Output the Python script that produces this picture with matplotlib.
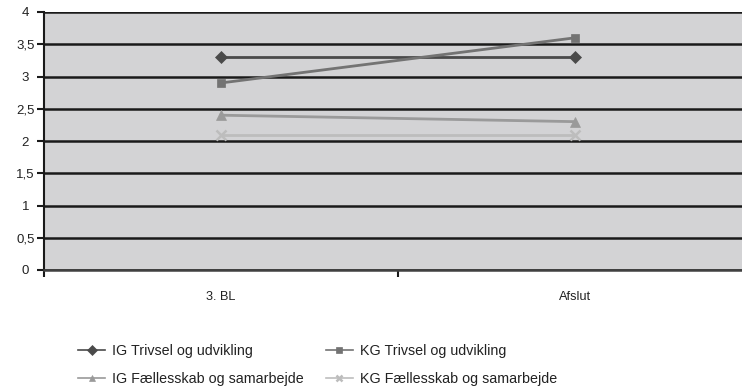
import numpy as np
import matplotlib.pyplot as plt
from matplotlib.ticker import FixedLocator, FuncFormatter

plt.rcParams['font.family'] = ['Liberation Sans', 'DejaVu Sans']

# Gennemsnit pr. måling
malinger = ['3. BL', 'Afslut']
ig_trivsel = [3.3, 3.3]
kg_trivsel = [2.9, 3.6]
ig_faelles = [2.4, 2.3]
kg_faelles = [2.1, 2.1]

serier = [
    ('IG Trivsel og udvikling', ig_trivsel, '#4a4a4a', 'D', 6),
    ('KG Trivsel og udvikling', kg_trivsel, '#737373', 's', 6),
    ('IG Fællesskab og samarbejde', ig_faelles, '#9a9a9a', '^', 7),
    ('KG Fællesskab og samarbejde', kg_faelles, '#bdbdbd', 'x', 7),
]

fig = plt.figure(figsize=(7.42, 3.87), dpi=100)
ax = fig.add_axes([44 / 742, 1 - 270 / 387, 708 / 742, 258 / 387])
ax.set_facecolor('#d3d3d5')

x = np.arange(len(malinger))
linjer = []
for navn, vals, farve, mk, ms in serier:
    l, = ax.plot(x, vals, color=farve, lw=2, marker=mk, markersize=ms,
                 markeredgewidth=1.8 if mk == 'x' else 0.5, markeredgecolor=farve,
                 label=navn, zorder=3)
    linjer.append(l)

ax.set_ylim(0, 4)
ax.set_xlim(-0.5, 1.5)
ax.set_yticks(np.arange(0, 4.01, 0.5))
ax.yaxis.set_major_formatter(FuncFormatter(lambda v, p: f'{v:g}'.replace('.', ',')))
ax.grid(axis='y', color='#1a1a1a', lw=1.8, zorder=1)
ax.tick_params(axis='y', direction='out', length=5, width=1.5, color='#1a1a1a',
               labelsize=9.5, pad=8.5, labelcolor='#222222')
for t in ax.get_yticklabels():
    t.set_horizontalalignment('center')

# kategoriskel: streger mellem kategorierne, tekst i midten
ax.xaxis.set_major_locator(FixedLocator([-0.5, 0.5, 1.5]))
ax.xaxis.set_major_formatter(FuncFormatter(lambda v, p: ''))
ax.xaxis.set_minor_locator(FixedLocator(x))
ax.set_xticklabels(malinger, minor=True)
ax.tick_params(axis='x', which='major', direction='out', length=5, width=1.5, color='#1a1a1a')
ax.tick_params(axis='x', which='minor', length=0, labelsize=9.2, pad=15, labelcolor='#222222')

for side in ['top', 'right']:
    ax.spines[side].set_visible(False)
ax.spines['left'].set_color('#1a1a1a')
ax.spines['left'].set_linewidth(1.5)
ax.spines['bottom'].set_color('#404040')
ax.spines['bottom'].set_linewidth(1.8)

# rækkefølge så IG/KG står side om side i hver række
orden = [0, 2, 1, 3]
leg = fig.legend([linjer[i] for i in orden], [serier[i][0] for i in orden],
                 loc='upper left', bbox_to_anchor=(78 / 742, 1 - 344 / 387), ncol=2,
                 frameon=False, fontsize=10.3, handlelength=1.9, handletextpad=0.5,
                 columnspacing=1.5, labelspacing=0.95, borderpad=0, borderaxespad=0,
                 labelcolor='#222222')
# tyndere streger og mindre markører i forklaringen
for h in leg.legend_handles:
    h.set_linewidth(1.2)
    h.set_markersize(5)

fig.savefig('out.png', dpi=100)
